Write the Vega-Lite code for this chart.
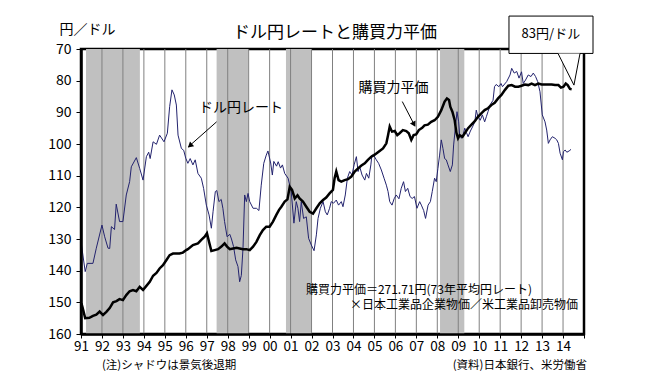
{
  "$schema": "https://vega.github.io/schema/vega-lite/v6.json",
  "width": 503,
  "height": 285,
  "autosize": {"type": "none"},
  "padding": {"left": 81, "top": 49, "right": 65, "bottom": 45},
  "background": "white",
  "config": {
    "font": "Noto Sans CJK JP",
    "view": {"stroke": "black", "strokeWidth": 2.5},
    "axis": {"labelColor": "black", "titleColor": "black", "labelOverlap": false, "labelFlush": false, "labelFontSize": 13, "grid": false, "tickCount": 40}
  },
  "datasets": {
    "bands": [
      {"t": 1991.24, "t2": 1993.81},
      {"t": 1997.47, "t2": 1998.98},
      {"t": 2000.78, "t2": 2002.0},
      {"t": 2008.13, "t2": 2009.29}
    ],
    "grid": [
      {"t": 1992}, {"t": 1993}, {"t": 1994}, {"t": 1995}, {"t": 1996}, {"t": 1997}, {"t": 1998}, {"t": 1999},
      {"t": 2000}, {"t": 2001}, {"t": 2002}, {"t": 2003}, {"t": 2004}, {"t": 2005}, {"t": 2006}, {"t": 2007},
      {"t": 2008}, {"t": 2009}, {"t": 2010}, {"t": 2011}, {"t": 2012}, {"t": 2013}, {"t": 2014}
    ],
    "yen": [
      {"t": 1991.02, "v": 131.7}, {"t": 1991.2, "v": 140.3}, {"t": 1991.3, "v": 137.7}, {"t": 1991.57, "v": 137.7},
      {"t": 1991.73, "v": 132.9}, {"t": 1992.0, "v": 125.6}, {"t": 1992.13, "v": 129.3}, {"t": 1992.29, "v": 132.9},
      {"t": 1992.37, "v": 133.0}, {"t": 1992.45, "v": 126.1}, {"t": 1992.6, "v": 127.0}, {"t": 1992.68, "v": 119.0},
      {"t": 1992.84, "v": 124.5}, {"t": 1993.0, "v": 124.5}, {"t": 1993.16, "v": 116.1}, {"t": 1993.32, "v": 111.9},
      {"t": 1993.4, "v": 107.2}, {"t": 1993.64, "v": 104.3}, {"t": 1993.8, "v": 107.7}, {"t": 1993.96, "v": 111.4},
      {"t": 1994.12, "v": 104.0}, {"t": 1994.23, "v": 102.6}, {"t": 1994.3, "v": 104.6}, {"t": 1994.44, "v": 99.3},
      {"t": 1994.6, "v": 100.1}, {"t": 1994.75, "v": 97.2}, {"t": 1994.96, "v": 99.3}, {"t": 1995.12, "v": 96.6},
      {"t": 1995.23, "v": 88.2}, {"t": 1995.34, "v": 82.9}, {"t": 1995.45, "v": 84.5}, {"t": 1995.55, "v": 87.7},
      {"t": 1995.63, "v": 97.2}, {"t": 1995.79, "v": 101.4}, {"t": 1995.9, "v": 102.0}, {"t": 1996.0, "v": 104.5},
      {"t": 1996.1, "v": 106.1}, {"t": 1996.21, "v": 104.6}, {"t": 1996.34, "v": 106.6}, {"t": 1996.45, "v": 105.0},
      {"t": 1996.58, "v": 109.3}, {"t": 1996.74, "v": 110.8}, {"t": 1996.85, "v": 114.0}, {"t": 1996.98, "v": 119.3},
      {"t": 1997.11, "v": 122.4}, {"t": 1997.22, "v": 126.6}, {"t": 1997.3, "v": 121.4}, {"t": 1997.41, "v": 115.0},
      {"t": 1997.48, "v": 114.7}, {"t": 1997.58, "v": 118.2}, {"t": 1997.69, "v": 117.5}, {"t": 1997.77, "v": 120.3},
      {"t": 1997.85, "v": 124.5}, {"t": 1997.97, "v": 129.3}, {"t": 1998.1, "v": 128.5}, {"t": 1998.18, "v": 130.0},
      {"t": 1998.28, "v": 132.4}, {"t": 1998.38, "v": 136.6}, {"t": 1998.49, "v": 138.7}, {"t": 1998.57, "v": 143.5},
      {"t": 1998.65, "v": 141.5}, {"t": 1998.73, "v": 132.9}, {"t": 1998.81, "v": 116.1}, {"t": 1998.89, "v": 118.2},
      {"t": 1998.97, "v": 115.6}, {"t": 1999.05, "v": 118.2}, {"t": 1999.21, "v": 120.3}, {"t": 1999.37, "v": 120.3},
      {"t": 1999.49, "v": 121.0}, {"t": 1999.6, "v": 113.0}, {"t": 1999.72, "v": 106.1}, {"t": 1999.84, "v": 103.5},
      {"t": 1999.92, "v": 102.2}, {"t": 2000.05, "v": 106.0}, {"t": 2000.13, "v": 109.8}, {"t": 2000.2, "v": 105.5},
      {"t": 2000.33, "v": 107.0}, {"t": 2000.41, "v": 105.6}, {"t": 2000.52, "v": 107.6}, {"t": 2000.61, "v": 106.6},
      {"t": 2000.72, "v": 109.3}, {"t": 2000.88, "v": 110.8}, {"t": 2000.96, "v": 113.0}, {"t": 2001.03, "v": 115.0},
      {"t": 2001.16, "v": 125.0}, {"t": 2001.27, "v": 118.2}, {"t": 2001.35, "v": 120.3}, {"t": 2001.43, "v": 124.5},
      {"t": 2001.51, "v": 118.2}, {"t": 2001.62, "v": 123.5}, {"t": 2001.75, "v": 123.0}, {"t": 2001.86, "v": 129.8},
      {"t": 2001.99, "v": 131.9}, {"t": 2002.12, "v": 133.7}, {"t": 2002.23, "v": 128.7}, {"t": 2002.31, "v": 123.5},
      {"t": 2002.42, "v": 120.3}, {"t": 2002.55, "v": 118.2}, {"t": 2002.66, "v": 121.4}, {"t": 2002.75, "v": 122.4},
      {"t": 2002.86, "v": 120.3}, {"t": 2002.94, "v": 118.2}, {"t": 2003.05, "v": 118.7}, {"t": 2003.18, "v": 117.7},
      {"t": 2003.29, "v": 119.3}, {"t": 2003.42, "v": 118.2}, {"t": 2003.5, "v": 119.8}, {"t": 2003.61, "v": 116.1},
      {"t": 2003.71, "v": 110.8}, {"t": 2003.82, "v": 108.7}, {"t": 2003.93, "v": 109.8}, {"t": 2004.03, "v": 106.6},
      {"t": 2004.14, "v": 104.0}, {"t": 2004.22, "v": 108.7}, {"t": 2004.3, "v": 107.2}, {"t": 2004.41, "v": 109.8},
      {"t": 2004.54, "v": 111.4}, {"t": 2004.62, "v": 109.3}, {"t": 2004.73, "v": 110.8}, {"t": 2004.83, "v": 106.6},
      {"t": 2004.88, "v": 103.5}, {"t": 2004.98, "v": 103.7}, {"t": 2005.09, "v": 105.0}, {"t": 2005.2, "v": 106.1},
      {"t": 2005.33, "v": 108.2}, {"t": 2005.46, "v": 110.8}, {"t": 2005.57, "v": 113.0}, {"t": 2005.65, "v": 115.0},
      {"t": 2005.73, "v": 118.2}, {"t": 2005.84, "v": 119.3}, {"t": 2005.94, "v": 117.3}, {"t": 2006.04, "v": 116.1},
      {"t": 2006.17, "v": 117.3}, {"t": 2006.28, "v": 114.0}, {"t": 2006.39, "v": 111.9}, {"t": 2006.48, "v": 115.0},
      {"t": 2006.59, "v": 114.0}, {"t": 2006.7, "v": 116.6}, {"t": 2006.8, "v": 117.2}, {"t": 2006.91, "v": 116.6},
      {"t": 2007.03, "v": 120.3}, {"t": 2007.16, "v": 118.2}, {"t": 2007.24, "v": 119.3}, {"t": 2007.35, "v": 121.0},
      {"t": 2007.44, "v": 123.5}, {"t": 2007.56, "v": 119.3}, {"t": 2007.67, "v": 118.2}, {"t": 2007.76, "v": 115.0},
      {"t": 2007.87, "v": 110.8}, {"t": 2007.95, "v": 111.9}, {"t": 2008.03, "v": 107.7}, {"t": 2008.11, "v": 103.5},
      {"t": 2008.19, "v": 98.7}, {"t": 2008.27, "v": 101.4}, {"t": 2008.35, "v": 104.6}, {"t": 2008.43, "v": 105.0},
      {"t": 2008.51, "v": 106.6}, {"t": 2008.62, "v": 108.7}, {"t": 2008.72, "v": 106.6}, {"t": 2008.78, "v": 100.3},
      {"t": 2008.86, "v": 95.0}, {"t": 2008.94, "v": 89.8}, {"t": 2009.02, "v": 93.0}, {"t": 2009.07, "v": 97.2},
      {"t": 2009.15, "v": 98.2}, {"t": 2009.23, "v": 97.2}, {"t": 2009.31, "v": 95.0}, {"t": 2009.39, "v": 96.4},
      {"t": 2009.47, "v": 97.7}, {"t": 2009.58, "v": 95.9}, {"t": 2009.68, "v": 94.6}, {"t": 2009.79, "v": 93.0},
      {"t": 2009.86, "v": 89.3}, {"t": 2009.94, "v": 91.4}, {"t": 2010.05, "v": 92.5}, {"t": 2010.15, "v": 90.8},
      {"t": 2010.26, "v": 93.0}, {"t": 2010.34, "v": 91.4}, {"t": 2010.42, "v": 89.8}, {"t": 2010.53, "v": 87.5},
      {"t": 2010.66, "v": 86.2}, {"t": 2010.73, "v": 81.9}, {"t": 2010.81, "v": 81.2}, {"t": 2010.94, "v": 81.9},
      {"t": 2011.04, "v": 80.9}, {"t": 2011.11, "v": 81.9}, {"t": 2011.31, "v": 80.3}, {"t": 2011.47, "v": 78.2},
      {"t": 2011.55, "v": 76.1}, {"t": 2011.67, "v": 77.6}, {"t": 2011.79, "v": 77.1}, {"t": 2011.9, "v": 79.2},
      {"t": 2012.02, "v": 77.2}, {"t": 2012.1, "v": 80.9}, {"t": 2012.21, "v": 79.8}, {"t": 2012.34, "v": 78.2},
      {"t": 2012.47, "v": 78.7}, {"t": 2012.58, "v": 77.6}, {"t": 2012.69, "v": 78.7}, {"t": 2012.79, "v": 80.3},
      {"t": 2012.9, "v": 83.5}, {"t": 2013.01, "v": 90.8}, {"t": 2013.14, "v": 93.0}, {"t": 2013.22, "v": 95.6},
      {"t": 2013.3, "v": 99.8}, {"t": 2013.38, "v": 98.7}, {"t": 2013.49, "v": 97.7}, {"t": 2013.62, "v": 98.2},
      {"t": 2013.7, "v": 98.7}, {"t": 2013.78, "v": 99.8}, {"t": 2013.86, "v": 102.9}, {"t": 2013.97, "v": 105.0},
      {"t": 2014.02, "v": 102.4}, {"t": 2014.1, "v": 101.9}, {"t": 2014.18, "v": 102.6}, {"t": 2014.29, "v": 102.2},
      {"t": 2014.38, "v": 101.7}
    ],
    "ppp": [
      {"t": 1991.02, "v": 150.3}, {"t": 1991.07, "v": 151.5}, {"t": 1991.2, "v": 155.0}, {"t": 1991.4, "v": 154.9},
      {"t": 1991.57, "v": 154.3}, {"t": 1991.73, "v": 153.9}, {"t": 1991.89, "v": 152.9}, {"t": 1992.05, "v": 154.0},
      {"t": 1992.21, "v": 153.0}, {"t": 1992.37, "v": 151.8}, {"t": 1992.53, "v": 150.0}, {"t": 1992.69, "v": 149.6},
      {"t": 1992.84, "v": 149.0}, {"t": 1993.0, "v": 149.3}, {"t": 1993.16, "v": 147.7}, {"t": 1993.32, "v": 146.5},
      {"t": 1993.48, "v": 146.1}, {"t": 1993.64, "v": 146.5}, {"t": 1993.8, "v": 145.1}, {"t": 1993.96, "v": 146.1},
      {"t": 1994.12, "v": 144.8}, {"t": 1994.28, "v": 143.5}, {"t": 1994.44, "v": 141.6}, {"t": 1994.6, "v": 140.7},
      {"t": 1994.75, "v": 139.3}, {"t": 1994.91, "v": 138.3}, {"t": 1995.07, "v": 136.7}, {"t": 1995.23, "v": 135.1},
      {"t": 1995.39, "v": 134.6}, {"t": 1995.55, "v": 134.6}, {"t": 1995.7, "v": 134.6}, {"t": 1995.86, "v": 134.3},
      {"t": 1996.02, "v": 133.5}, {"t": 1996.1, "v": 133.2}, {"t": 1996.34, "v": 131.9}, {"t": 1996.58, "v": 131.4},
      {"t": 1996.74, "v": 130.3}, {"t": 1996.9, "v": 129.3}, {"t": 1997.01, "v": 128.2}, {"t": 1997.11, "v": 130.9},
      {"t": 1997.22, "v": 133.8}, {"t": 1997.38, "v": 133.5}, {"t": 1997.54, "v": 133.2}, {"t": 1997.7, "v": 132.4},
      {"t": 1997.85, "v": 131.4}, {"t": 1997.97, "v": 132.4}, {"t": 1998.1, "v": 133.2}, {"t": 1998.26, "v": 133.0},
      {"t": 1998.42, "v": 132.8}, {"t": 1998.57, "v": 133.0}, {"t": 1998.73, "v": 133.2}, {"t": 1998.89, "v": 133.2},
      {"t": 1999.05, "v": 133.5}, {"t": 1999.21, "v": 132.4}, {"t": 1999.37, "v": 130.9}, {"t": 1999.53, "v": 128.8},
      {"t": 1999.68, "v": 127.2}, {"t": 1999.84, "v": 126.1}, {"t": 2000.0, "v": 126.1}, {"t": 2000.16, "v": 124.5},
      {"t": 2000.32, "v": 122.4}, {"t": 2000.45, "v": 120.8}, {"t": 2000.56, "v": 119.8}, {"t": 2000.72, "v": 118.2},
      {"t": 2000.85, "v": 117.5}, {"t": 2000.96, "v": 113.5}, {"t": 2001.07, "v": 114.5}, {"t": 2001.2, "v": 117.2},
      {"t": 2001.33, "v": 116.2}, {"t": 2001.43, "v": 117.2}, {"t": 2001.59, "v": 118.2}, {"t": 2001.75, "v": 119.8},
      {"t": 2001.91, "v": 121.4}, {"t": 2002.07, "v": 122.0}, {"t": 2002.23, "v": 120.3}, {"t": 2002.39, "v": 118.7},
      {"t": 2002.55, "v": 117.7}, {"t": 2002.7, "v": 116.9}, {"t": 2002.86, "v": 115.6}, {"t": 2003.02, "v": 114.5},
      {"t": 2003.1, "v": 110.8}, {"t": 2003.18, "v": 108.7}, {"t": 2003.29, "v": 111.4}, {"t": 2003.42, "v": 111.9},
      {"t": 2003.58, "v": 111.4}, {"t": 2003.74, "v": 111.1}, {"t": 2003.9, "v": 110.3}, {"t": 2004.06, "v": 108.7},
      {"t": 2004.22, "v": 107.7}, {"t": 2004.38, "v": 106.8}, {"t": 2004.54, "v": 106.1}, {"t": 2004.69, "v": 105.0},
      {"t": 2004.85, "v": 104.0}, {"t": 2004.98, "v": 103.5}, {"t": 2005.09, "v": 103.0}, {"t": 2005.25, "v": 102.2},
      {"t": 2005.41, "v": 101.4}, {"t": 2005.57, "v": 99.8}, {"t": 2005.65, "v": 97.2}, {"t": 2005.73, "v": 94.5},
      {"t": 2005.84, "v": 96.1}, {"t": 2005.97, "v": 95.9}, {"t": 2006.09, "v": 97.2}, {"t": 2006.2, "v": 96.6},
      {"t": 2006.36, "v": 95.6}, {"t": 2006.52, "v": 95.9}, {"t": 2006.64, "v": 96.6}, {"t": 2006.76, "v": 98.7},
      {"t": 2006.87, "v": 97.2}, {"t": 2006.99, "v": 97.0}, {"t": 2007.12, "v": 95.6}, {"t": 2007.28, "v": 94.9},
      {"t": 2007.39, "v": 94.1}, {"t": 2007.55, "v": 93.9}, {"t": 2007.71, "v": 93.0}, {"t": 2007.87, "v": 92.5},
      {"t": 2008.03, "v": 91.4}, {"t": 2008.19, "v": 89.3}, {"t": 2008.35, "v": 86.6}, {"t": 2008.46, "v": 85.6},
      {"t": 2008.56, "v": 86.1}, {"t": 2008.62, "v": 88.2}, {"t": 2008.72, "v": 89.8}, {"t": 2008.83, "v": 92.5},
      {"t": 2008.91, "v": 96.4}, {"t": 2008.99, "v": 98.2}, {"t": 2009.07, "v": 97.2}, {"t": 2009.2, "v": 97.7},
      {"t": 2009.31, "v": 96.6}, {"t": 2009.47, "v": 95.0}, {"t": 2009.63, "v": 93.9}, {"t": 2009.79, "v": 92.8},
      {"t": 2009.94, "v": 91.4}, {"t": 2010.1, "v": 90.3}, {"t": 2010.26, "v": 89.3}, {"t": 2010.42, "v": 88.7},
      {"t": 2010.58, "v": 87.7}, {"t": 2010.74, "v": 87.0}, {"t": 2010.9, "v": 85.6}, {"t": 2011.06, "v": 84.5},
      {"t": 2011.23, "v": 82.9}, {"t": 2011.39, "v": 81.6}, {"t": 2011.55, "v": 81.4}, {"t": 2011.71, "v": 81.9},
      {"t": 2011.87, "v": 81.9}, {"t": 2012.02, "v": 81.6}, {"t": 2012.18, "v": 81.2}, {"t": 2012.34, "v": 81.4},
      {"t": 2012.5, "v": 80.9}, {"t": 2012.66, "v": 81.4}, {"t": 2012.82, "v": 80.9}, {"t": 2012.98, "v": 81.2},
      {"t": 2013.14, "v": 81.2}, {"t": 2013.3, "v": 81.2}, {"t": 2013.46, "v": 81.2}, {"t": 2013.62, "v": 81.4},
      {"t": 2013.78, "v": 81.4}, {"t": 2013.9, "v": 82.2}, {"t": 2014.02, "v": 81.9}, {"t": 2014.13, "v": 80.9},
      {"t": 2014.22, "v": 81.4}, {"t": 2014.33, "v": 82.6}, {"t": 2014.41, "v": 82.7}
    ],
    "arrows": [
      {"a": 1, "t": 1997.47, "v": 93.0}, {"a": 1, "t": 1996.12, "v": 100.9},
      {"a": 2, "t": 2006.33, "v": 86.6}, {"a": 2, "t": 2006.93, "v": 94.3}
    ],
    "head1": [{"t": 1996.2, "v": 100.5}],
    "head2": [{"t": 2006.89, "v": 93.8}],
    "title": [{"t": 2003.12, "v": 64.95, "label": "ドル円レートと購買力平価"}],
    "labels": [
      {"t": 1998.63, "v": 88.6, "label": "ドル円レート"},
      {"t": 2005.91, "v": 82.2, "label": "購買力平価"}
    ],
    "formula": [
      {"t": 2001.73, "v": 146.1, "label": "購買力平価＝271.71円(73年平均円レート)"},
      {"t": 2003.83, "v": 150.8, "label": "×日本工業品企業物価／米工業品卸売物価"}
    ],
    "notesL": [{"t": 1992.0, "v": 170.1, "label": "(注)シャドウは景気後退期"}],
    "notesR": [{"t": 2015.14, "v": 170.1, "label": "(資料)日本銀行、米労働省"}],
    "box": [{"t": 2011.42, "t2": 2015.43, "v": 59.6, "v2": 71.4}],
    "pointer": [
      {"t": 2013.76, "v": 71.4, "v2": 71.4},
      {"t": 2014.52, "v": 81.4, "v2": 71.4},
      {"t": 2014.81, "v": 71.4, "v2": 71.4}
    ],
    "boxtext": [{"t": 2013.42, "v": 65.4, "label": "83円/ドル"}]
  },
  "layer": [
    {
      "data": {"name": "bands"},
      "mark": {"type": "rect", "color": "#C0C0C0"},
      "encoding": {
        "x": {"field": "t", "type": "quantitative"},
        "x2": {"field": "t2"}
      }
    },
    {
      "data": {"name": "grid"},
      "mark": {"type": "rule", "color": "#808080", "strokeWidth": 1},
      "encoding": {"x": {"field": "t", "type": "quantitative"}}
    },
    {
      "data": {"name": "yen"},
      "mark": {"type": "line", "color": "#23236E", "strokeWidth": 1},
      "encoding": {
        "x": {
          "field": "t", "type": "quantitative",
          "scale": {"domain": [1991, 2015], "nice": false, "zero": false},
          "axis": {
            "title": null, "values": [1991,1992,1993,1994,1995,1996,1997,1998,1999,2000,2001,2002,2003,2004,2005,2006,2007,2008,2009,2010,2011,2012,2013,2014,2015],
            "tickCount": 40,
            "labelExpr": "datum.value >= 2015 ? '' : substring('' + datum.value, 2)",
            "grid": false, "domainColor": "black", "domainWidth": 2.5, "tickColor": "black", "tickSize": 4, "tickWidth": 1,
            "labelFontSize": 13.5, "labelFlush": false, "labelOverlap": false, "labelPadding": 1, "zindex": 1
          }
        },
        "y": {
          "field": "v", "type": "quantitative",
          "scale": {"domain": [70, 160], "reverse": true, "nice": false, "zero": false},
          "axis": {
            "title": "円／ドル", "titleAngle": 0, "titleAlign": "center", "titleBaseline": "middle", "titleX": 6, "titleY": -20,
            "titleFontSize": 14, "titleFontWeight": "normal",
            "values": [70,80,90,100,110,120,130,140,150,160],
            "tickCount": 40,
            "grid": false, "domainColor": "black", "domainWidth": 2.5, "tickColor": "black", "tickSize": 5, "tickWidth": 1,
            "labelFontSize": 14, "labelFlush": false, "labelOverlap": false, "labelPadding": 5, "zindex": 1
          }
        }
      }
    },
    {
      "data": {"name": "ppp"},
      "mark": {"type": "line", "color": "black", "strokeWidth": 2.5},
      "encoding": {
        "x": {"field": "t", "type": "quantitative"},
        "y": {"field": "v", "type": "quantitative"}
      }
    },
    {
      "data": {"name": "arrows"},
      "mark": {"type": "line", "color": "black", "strokeWidth": 1},
      "encoding": {
        "x": {"field": "t", "type": "quantitative"},
        "y": {"field": "v", "type": "quantitative"},
        "detail": {"field": "a"}
      }
    },
    {
      "data": {"name": "head1"},
      "mark": {"type": "point", "shape": "triangle-up", "filled": true, "color": "black", "size": 40, "angle": 229, "opacity": 1},
      "encoding": {
        "x": {"field": "t", "type": "quantitative"},
        "y": {"field": "v", "type": "quantitative"}
      }
    },
    {
      "data": {"name": "head2"},
      "mark": {"type": "point", "shape": "triangle-up", "filled": true, "color": "black", "size": 40, "angle": 152, "opacity": 1},
      "encoding": {
        "x": {"field": "t", "type": "quantitative"},
        "y": {"field": "v", "type": "quantitative"}
      }
    },
    {
      "data": {"name": "title"},
      "mark": {"type": "text", "fontSize": 17, "color": "black", "align": "center", "baseline": "middle"},
      "encoding": {
        "x": {"field": "t", "type": "quantitative"},
        "y": {"field": "v", "type": "quantitative"},
        "text": {"field": "label"}
      }
    },
    {
      "data": {"name": "labels"},
      "mark": {"type": "text", "fontSize": 14, "color": "black", "align": "center", "baseline": "middle"},
      "encoding": {
        "x": {"field": "t", "type": "quantitative"},
        "y": {"field": "v", "type": "quantitative"},
        "text": {"field": "label"}
      }
    },
    {
      "data": {"name": "formula"},
      "mark": {"type": "text", "fontSize": 12, "color": "black", "align": "left", "baseline": "middle"},
      "encoding": {
        "x": {"field": "t", "type": "quantitative"},
        "y": {"field": "v", "type": "quantitative"},
        "text": {"field": "label"}
      }
    },
    {
      "data": {"name": "notesL"},
      "mark": {"type": "text", "fontSize": 11.5, "color": "black", "align": "left", "baseline": "middle"},
      "encoding": {
        "x": {"field": "t", "type": "quantitative"},
        "y": {"field": "v", "type": "quantitative"},
        "text": {"field": "label"}
      }
    },
    {
      "data": {"name": "notesR"},
      "mark": {"type": "text", "fontSize": 11.5, "color": "black", "align": "right", "baseline": "middle"},
      "encoding": {
        "x": {"field": "t", "type": "quantitative"},
        "y": {"field": "v", "type": "quantitative"},
        "text": {"field": "label"}
      }
    },
    {
      "data": {"name": "box"},
      "mark": {"type": "rect", "fill": "white", "stroke": "black", "strokeWidth": 1},
      "encoding": {
        "x": {"field": "t", "type": "quantitative"},
        "x2": {"field": "t2"},
        "y": {"field": "v", "type": "quantitative"},
        "y2": {"field": "v2"}
      }
    },
    {
      "data": {"name": "pointer"},
      "mark": {"type": "area", "color": "white", "opacity": 1},
      "encoding": {
        "x": {"field": "t", "type": "quantitative"},
        "y": {"field": "v", "type": "quantitative"},
        "y2": {"field": "v2"}
      }
    },
    {
      "data": {"name": "pointer"},
      "mark": {"type": "line", "color": "black", "strokeWidth": 1},
      "encoding": {
        "x": {"field": "t", "type": "quantitative"},
        "y": {"field": "v", "type": "quantitative"}
      }
    },
    {
      "data": {"name": "boxtext"},
      "mark": {"type": "text", "fontSize": 13, "color": "black", "align": "center", "baseline": "middle"},
      "encoding": {
        "x": {"field": "t", "type": "quantitative"},
        "y": {"field": "v", "type": "quantitative"},
        "text": {"field": "label"}
      }
    }
  ]
}
